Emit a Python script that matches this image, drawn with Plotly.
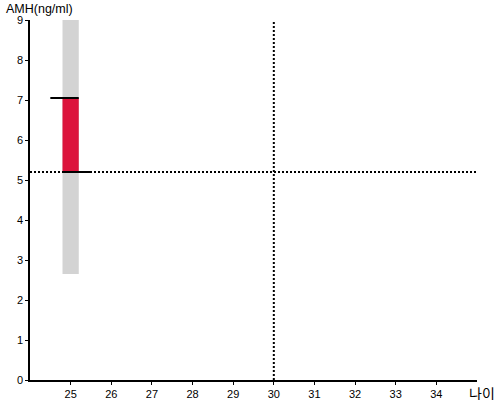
import plotly.graph_objects as go

# Data
bar_x = [25]
range_low = [2.65]
range_high = [9.0]
val_low = [5.2]
val_high = [7.05]
top_line_x = [24.5, 25.2]
bottom_line_x = [24.8, 25.5]
ref_y = 5.2
ref_x = 30
x_ticks = [25, 26, 27, 28, 29, 30, 31, 32, 33, 34]
y_ticks = [0, 1, 2, 3, 4, 5, 6, 7, 8, 9]

fig = go.Figure()

fig.add_trace(go.Bar(x=bar_x, y=[range_high[0] - range_low[0]], base=range_low,
                     width=0.4, marker=dict(color="#d3d3d3", line=dict(width=0)),
                     hoverinfo="skip"))
fig.add_trace(go.Bar(x=bar_x, y=[val_high[0] - val_low[0]], base=val_low,
                     width=0.4, marker=dict(color="#dc143c", line=dict(width=0)),
                     hoverinfo="skip"))
fig.add_trace(go.Scatter(x=top_line_x, y=[val_high[0]] * 2, mode="lines",
                         line=dict(color="black", width=2)))
fig.add_trace(go.Scatter(x=bottom_line_x, y=[val_low[0]] * 2, mode="lines",
                         line=dict(color="black", width=2)))
fig.add_trace(go.Scatter(x=[24, 35], y=[ref_y, ref_y], mode="lines",
                         line=dict(color="black", width=2, dash="2px,2px")))
fig.add_trace(go.Scatter(x=[ref_x, ref_x], y=[0, 9], mode="lines",
                         line=dict(color="black", width=2, dash="2px,2px")))

fig.update_layout(
    width=500, height=400,
    margin=dict(l=30, r=23, t=20, b=20, autoexpand=False),
    plot_bgcolor="white", paper_bgcolor="white",
    showlegend=False, barmode="overlay",
    font=dict(family="Arial, Liberation Sans, sans-serif", size=11, color="black"),
    xaxis=dict(range=[24, 35], tickvals=x_ticks, showgrid=False, zeroline=False,
               showline=True, linecolor="black", linewidth=1.5, automargin=False,
               ticks="outside", ticklen=3, tickcolor="black"),
    yaxis=dict(range=[0, 9], tickvals=y_ticks, showgrid=False, zeroline=False,
               showline=True, linecolor="black", linewidth=1.5, automargin=False,
               ticks="outside", ticklen=3, tickcolor="black"),
    annotations=[
        dict(text="AMH(ng/ml)", xref="paper", yref="paper", x=-0.059, y=1.0,
             xanchor="left", yanchor="bottom", showarrow=False, yshift=2,
             font=dict(size=12.5, family="Arial, Liberation Sans, sans-serif")),
        dict(text="나이", xref="paper", yref="paper", x=1.045, y=0.0,
             xanchor="right", yanchor="top", showarrow=False, yshift=-1,
             font=dict(size=14, family="Noto Sans CJK KR")),
    ],
)

fig.write_html("out.html", config={"displayModeBar": False},
               post_script="document.body.style.margin='0';")
